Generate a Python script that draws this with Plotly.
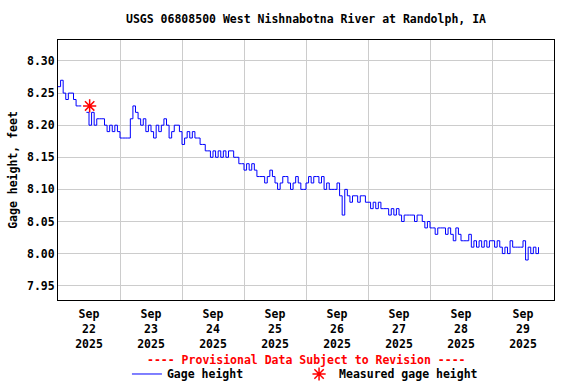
import plotly.graph_objects as go
import pandas as pd

# Hourly gage height readings (feet) starting 2025-09-22 00:00; None = data gap
gage_height = [
    8.26, 8.27, 8.25, 8.24, 8.25, 8.25, 8.24, 8.23, 8.23, 8.23,
    None, 8.22, 8.20, 8.22, 8.20, 8.21, 8.21, 8.21, 8.20, 8.19,
    8.20, 8.19, 8.20, 8.19, 8.18, 8.18, 8.18, 8.18, 8.21, 8.23,
    8.22, 8.21, 8.20, 8.21, 8.19, 8.20, 8.19, 8.18, 8.20, 8.19,
    8.20, 8.21, 8.20, 8.18, 8.19, 8.20, 8.20, 8.19, 8.17, 8.18,
    8.19, 8.18, 8.19, 8.18, 8.18, 8.17, 8.17, 8.16, 8.16, 8.15,
    8.16, 8.15, 8.16, 8.15, 8.16, 8.15, 8.16, 8.16, 8.15, 8.15,
    8.14, 8.14, 8.13, 8.14, 8.13, 8.14, 8.13, 8.12, 8.12, 8.12,
    8.11, 8.12, 8.13, 8.12, 8.11, 8.10, 8.11, 8.12, 8.12, 8.11,
    8.10, 8.11, 8.12, 8.11, 8.10, 8.10, 8.11, 8.12, 8.11, 8.12,
    8.12, 8.11, 8.12, 8.10, 8.11, 8.10, 8.10, 8.10, 8.11, 8.09,
    8.06, 8.10, 8.09, 8.08, 8.09, 8.09, 8.08, 8.09, 8.09, 8.08,
    8.08, 8.07, 8.08, 8.07, 8.08, 8.07, 8.07, 8.07, 8.06, 8.07,
    8.06, 8.07, 8.06, 8.05, 8.06, 8.06, 8.06, 8.06, 8.05, 8.06,
    8.06, 8.05, 8.04, 8.05, 8.04, 8.04, 8.03, 8.04, 8.04, 8.04,
    8.03, 8.04, 8.03, 8.02, 8.04, 8.03, 8.02, 8.02, 8.02, 8.03,
    8.01, 8.02, 8.01, 8.02, 8.01, 8.02, 8.01, 8.02, 8.02, 8.01,
    8.02, 8.01, 8.00, 8.01, 8.00, 8.02, 8.01, 8.01, 8.01, 8.01,
    8.02, 7.99, 8.01, 8.00, 8.01, 8.00, 8.01,
]
series_start = "2025-09-22 00:00"

measured_time = ["2025-09-22 12:15"]
measured_value = [8.23]

tick_dates = ["2025-09-22 12:00", "2025-09-23 12:00", "2025-09-24 12:00", "2025-09-25 12:00",
              "2025-09-26 12:00", "2025-09-27 12:00", "2025-09-28 12:00", "2025-09-29 12:00"]
tick_labels = ["Sep<br>22<br>2025", "Sep<br>23<br>2025", "Sep<br>24<br>2025", "Sep<br>25<br>2025",
               "Sep<br>26<br>2025", "Sep<br>27<br>2025", "Sep<br>28<br>2025", "Sep<br>29<br>2025"]
y_ticks = [7.95, 8.00, 8.05, 8.10, 8.15, 8.20, 8.25, 8.30]

times = pd.date_range(series_start, periods=len(gage_height), freq="h")

FONT = dict(family="DejaVu Sans Mono", size=11.5, color="black", weight="bold")

fig = go.Figure()
fig.add_trace(go.Scatter(
    x=times, y=gage_height, mode="lines", name="Gage height", legend="legend",
    line=dict(color="#0000FF", width=1, shape="hv"), connectgaps=False,
))
fig.add_trace(go.Scatter(
    x=measured_time, y=measured_value, mode="markers", name="Measured gage height",
    legend="legend2",
    marker=dict(symbol="asterisk-open", size=11, color="#FF0000",
                line=dict(color="#FF0000", width=1.5)),
))

legend_style = dict(orientation="h", xanchor="left", y=-0.2846, yanchor="middle",
                    font=FONT, bgcolor="rgba(0,0,0,0)")

fig.update_layout(
    width=576, height=384,
    margin=dict(l=58, r=22, t=40, b=84, autoexpand=False),
    paper_bgcolor="white", plot_bgcolor="white",
    font=FONT,
    title=dict(text="USGS 06808500 West Nishnabotna River at Randolph, IA",
               x=0.5, xref="paper", xanchor="center",
               y=1 - 19 / 384, yref="container", yanchor="middle",
               font=FONT),
    showlegend=True,
    legend=dict(legend_style, x=0.139),
    legend2=dict(legend_style, x=0.486),
    annotations=[dict(text="---- Provisional Data Subject to Revision ----",
                      x=0.5, xref="paper", xanchor="center",
                      y=-0.2308, yref="paper", yanchor="middle",
                      showarrow=False, font=dict(FONT, color="#FF0000"))],
)

fig.update_xaxes(
    range=["2025-09-22 00:00", "2025-09-30 00:00"],
    tickmode="array", tickvals=tick_dates, ticktext=tick_labels,
    showgrid=False, ticks="", tickfont=FONT, ticklabelstandoff=3, automargin=False,
    minor=dict(dtick=86400000, tick0="2025-09-22 00:00", showgrid=True,
               gridcolor="#CCCCCC", gridwidth=1, ticks=""),
    showline=True, mirror=True, linecolor="black", linewidth=1, zeroline=False,
)
fig.update_yaxes(
    range=[7.9277, 8.3327],
    tickmode="array", tickvals=y_ticks, tickformat=".2f", automargin=False,
    showgrid=True, gridcolor="#CCCCCC", gridwidth=1, ticks="", tickfont=FONT,
    title=dict(text="Gage height, feet", font=FONT, standoff=6),
    showline=True, mirror=True, linecolor="black", linewidth=1, zeroline=False,
)

fig.write_html("out.html", config={"displayModeBar": False},
               post_script="document.body.style.margin='0px';")
